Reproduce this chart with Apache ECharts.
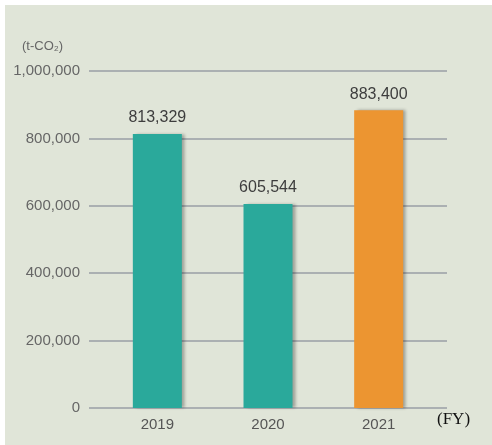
<!DOCTYPE html>
<html>
<head>
<meta charset="utf-8">
<script src="https://cdn.jsdelivr.net/npm/echarts@6/dist/echarts.min.js"></script>
<style>
  html, body { margin: 0; padding: 0; background: #fff; }
  #chart { width: 492px; height: 445px; }
</style>
</head>
<body>
<div id="chart"></div>
<script>
// data
var years = ['2019', '2020', '2021'];
var emissions = [813329, 605544, 883400];
var barColors = ['#2aa99b', '#2aa99b', '#ec9531'];
var yTicks = [0, 200000, 400000, 600000, 800000, 1000000];

var chart = echarts.init(document.getElementById('chart'));

function fmt(v) {
  return String(v).replace(/\B(?=(\d{3})+(?!\d))/g, ',');
}

var option = {
  backgroundColor: '#fff',
  animation: false,
  graphic: [
    {
      type: 'rect',
      shape: { x: 5, y: 5, width: 487, height: 440 },
      style: { fill: '#e0e5d8' },
      z: -10
    },
    {
      type: 'text',
      left: 22, top: 40,
      style: { text: '(t-CO₂)', fill: '#666', font: '13px "Liberation Sans", Arial, sans-serif' }
    },
    {
      type: 'text',
      left: 437, top: 411,
      style: { text: '(FY)', fill: '#111', font: '17px "Liberation Serif", "Times New Roman", serif' }
    }
  ],
  grid: [
    // wide grid for y labels and split lines
    { left: 89, right: 45, top: 71, bottom: 37 },
    // narrower grid for the bars
    { left: 102, right: 58, top: 71, bottom: 37 }
  ],
  xAxis: [
    { type: 'category', gridIndex: 0, data: years, show: false },
    {
      type: 'category', gridIndex: 1, data: years,
      axisLine: { show: false },
      axisTick: { show: false },
      axisLabel: { color: '#555', fontSize: 15, margin: 9, fontFamily: '"Liberation Sans", Arial, sans-serif' }
    }
  ],
  yAxis: [
    {
      type: 'value', gridIndex: 0, min: 0, max: 1000000, interval: 200000,
      axisLine: { show: false },
      axisTick: { show: false },
      axisLabel: {
        color: '#666', fontSize: 15, margin: 9,
        fontFamily: '"Liberation Sans", Arial, sans-serif',
        formatter: function (v) { return yTicks.indexOf(v) >= 0 ? fmt(v) : ''; }
      },
      splitLine: {
        show: true,
        lineStyle: { color: '#9a9ea6', width: 1.5 }
      }
    },
    {
      type: 'value', gridIndex: 1, min: 0, max: 1000000, interval: 200000,
      show: false, splitLine: { show: false }
    }
  ],
  series: [
    {
      type: 'bar',
      xAxisIndex: 1,
      yAxisIndex: 1,
      barWidth: 49,
      data: emissions.map(function (v, i) {
        return { value: v, itemStyle: { color: barColors[i] } };
      }),
      itemStyle: {
        shadowColor: 'rgba(0,0,0,0.3)',
        shadowOffsetX: 3,
        shadowOffsetY: 0,
        shadowBlur: 3
      },
      label: {
        show: true,
        position: 'top',
        distance: 8,
        color: '#3d3d3d',
        fontSize: 16,
        fontFamily: '"Liberation Sans", Arial, sans-serif',
        formatter: function (p) { return fmt(p.value); }
      }
    }
  ]
};

chart.setOption(option);
</script>
</body>
</html>
